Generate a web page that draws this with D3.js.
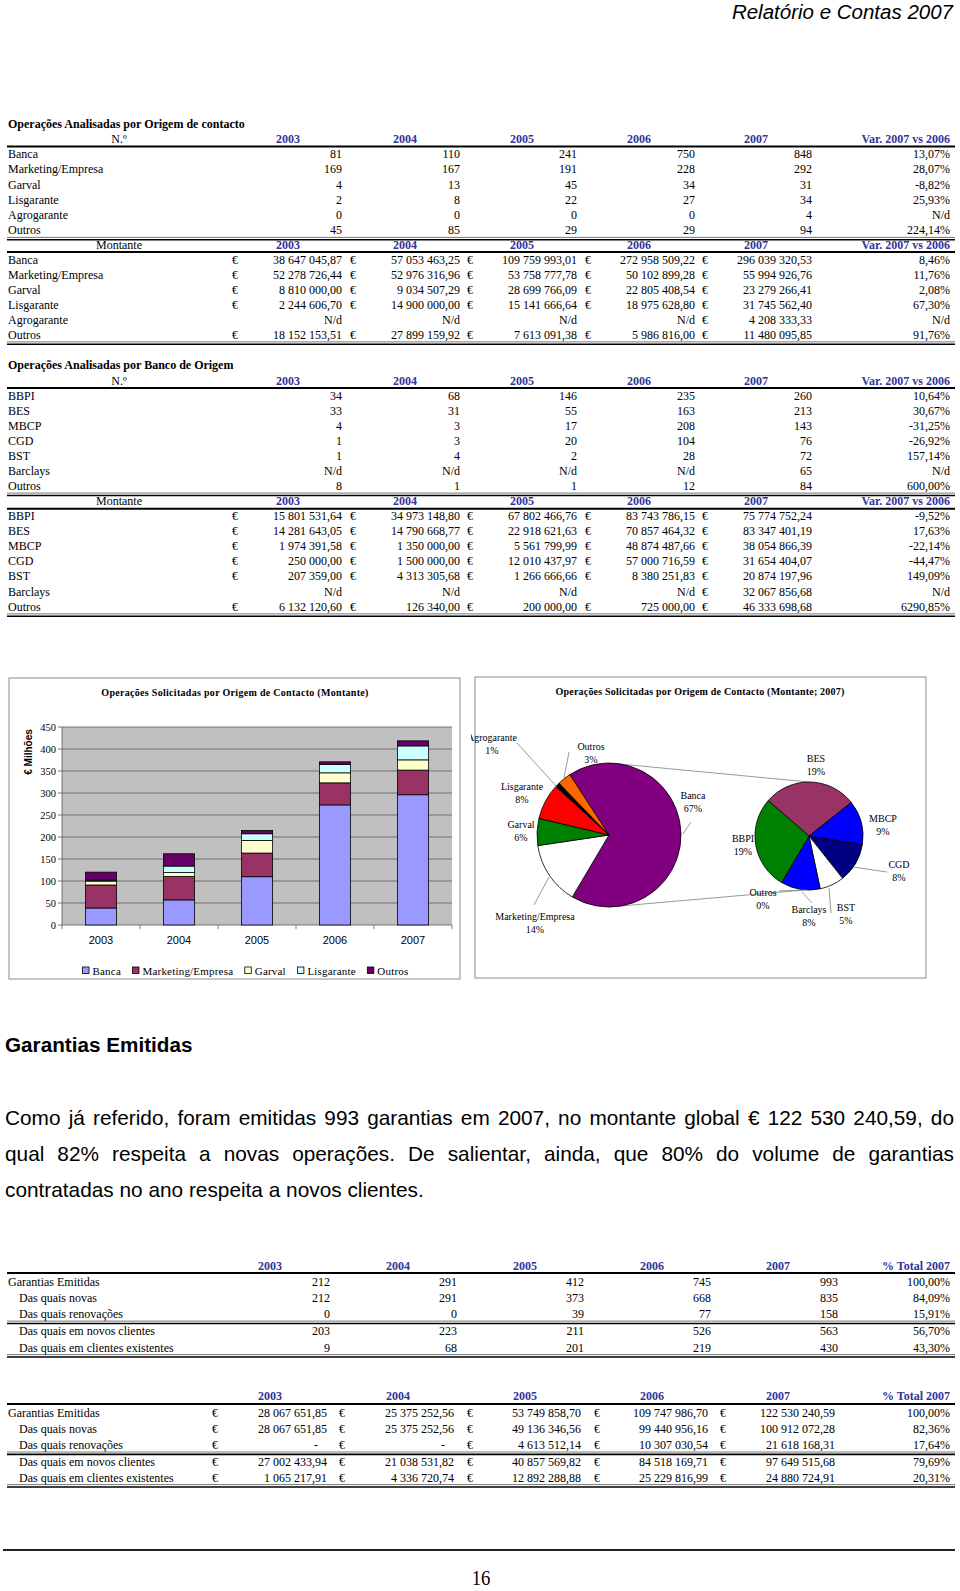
<!DOCTYPE html>
<html><head><meta charset="utf-8">
<script src="https://cdn.jsdelivr.net/npm/d3@7"></script>
<style>body{margin:0;background:#fff}svg{display:block}</style>
</head><body>
<svg id="page" width="960" height="1591"></svg>
<script>
// ===================== DATA =====================
const years = ["2003", "2004", "2005", "2006", "2007"];

// Operações Analisadas por Origem de contacto
const origens = ["Banca", "Marketing/Empresa", "Garval", "Lisgarante", "Agrogarante", "Outros"];
const nOrigem = [
  [81, 110, 241, 750, 848],
  [169, 167, 191, 228, 292],
  [4, 13, 45, 34, 31],
  [2, 8, 22, 27, 34],
  [0, 0, 0, 0, 4],
  [45, 85, 29, 29, 94]
];
const nOrigemVar = ["13,07%", "28,07%", "-8,82%", "25,93%", "N/d", "224,14%"];
const montOrigem = [
  [38647045.87, 57053463.25, 109759993.01, 272958509.22, 296039320.53],
  [52278726.44, 52976316.96, 53758777.78, 50102899.28, 55994926.76],
  [8810000.00, 9034507.29, 28699766.09, 22805408.54, 23279266.41],
  [2244606.70, 14900000.00, 15141666.64, 18975628.80, 31745562.40],
  [null, null, null, null, 4208333.33],
  [18152153.51, 27899159.92, 7613091.38, 5986816.00, 11480095.85]
];
const montOrigemVar = ["8,46%", "11,76%", "2,08%", "67,30%", "N/d", "91,76%"];

// Operações Analisadas por Banco de Origem
const bancos = ["BBPI", "BES", "MBCP", "CGD", "BST", "Barclays", "Outros"];
const nBanco = [
  [34, 68, 146, 235, 260],
  [33, 31, 55, 163, 213],
  [4, 3, 17, 208, 143],
  [1, 3, 20, 104, 76],
  [1, 4, 2, 28, 72],
  [null, null, null, null, 65],
  [8, 1, 1, 12, 84]
];
const nBancoVar = ["10,64%", "30,67%", "-31,25%", "-26,92%", "157,14%", "N/d", "600,00%"];
const montBanco = [
  [15801531.64, 34973148.80, 67802466.76, 83743786.15, 75774752.24],
  [14281643.05, 14790668.77, 22918621.63, 70857464.32, 83347401.19],
  [1974391.58, 1350000.00, 5561799.99, 48874487.66, 38054866.39],
  [250000.00, 1500000.00, 12010437.97, 57000716.59, 31654404.07],
  [207359.00, 4313305.68, 1266666.66, 8380251.83, 20874197.96],
  [null, null, null, null, 32067856.68],
  [6132120.60, 126340.00, 200000.00, 725000.00, 46333698.68]
];
const montBancoVar = ["-9,52%", "17,63%", "-22,14%", "-44,47%", "149,09%", "N/d", "6290,85%"];

// Bar chart series (Montante, € Milhões)
const barSeries = ["Banca", "Marketing/Empresa", "Garval", "Lisgarante", "Outros"];
const barColors = ["#9999ff", "#993366", "#ffffcc", "#ccffff", "#660066"];
const yTicks = [0, 50, 100, 150, 200, 250, 300, 350, 400, 450];

// Pie of pie (Montante; 2007), % of total
const pieMainLabels = ["Banca", "Marketing/Empresa", "Garval", "Lisgarante", "Agrogarante", "Outros"];
const pieMainPct = [67, 14, 6, 8, 1, 3];
const pieMainColors = ["#800080", "#ffffff", "#008000", "#ff0000", "#000000", "#ff6600"];
const pieSubLabels = ["BES", "MBCP", "CGD", "BST", "Barclays", "Outros", "BBPI"];
const pieSubPct = [19, 9, 8, 5, 8, 0, 19];
const pieSubColors = ["#993366", "#0000ff", "#000080", "#ffffff", "#0000ff", "#ffffff", "#008000"];

// Garantias Emitidas
const garLabels = ["Garantias Emitidas", "Das quais novas", "Das quais renovações", "Das quais em novos clientes", "Das quais em clientes existentes"];
const garN = [
  [212, 291, 412, 745, 993],
  [212, 291, 373, 668, 835],
  [0, 0, 39, 77, 158],
  [203, 223, 211, 526, 563],
  [9, 68, 201, 219, 430]
];
const garNPct = ["100,00%", "84,09%", "15,91%", "56,70%", "43,30%"];
const garM = [
  [28067651.85, 25375252.56, 53749858.70, 109747986.70, 122530240.59],
  [28067651.85, 25375252.56, 49136346.56, 99440956.16, 100912072.28],
  [null, null, 4613512.14, 10307030.54, 21618168.31],
  [27002433.94, 21038531.82, 40857569.82, 84518169.71, 97649515.68],
  [1065217.91, 4336720.74, 12892288.88, 25229816.99, 24880724.91]
];
const garMPct = ["100,00%", "82,36%", "17,64%", "79,69%", "20,31%"];

const paragraphLines = [
  "Como já referido, foram emitidas 993 garantias em 2007, no montante global € 122 530 240,59, do",
  "qual 82% respeita a novas operações. De salientar, ainda, que 80% do volume de garantias",
  "contratadas no ano respeita a novos clientes."
];

// ===================== DRAWING =====================
const svg = d3.select("#page");
svg.append("rect").attr("width", 960).attr("height", 1591).attr("fill", "#fff");

const SERIF = "'Liberation Serif','Times New Roman',serif";
const SANS = "'Liberation Sans',Arial,sans-serif";
const NAVY = "#333399";
const loc = d3.formatLocale({decimal: ",", thousands: " ", grouping: [3], currency: ["€", ""]});
const fmtM = loc.format(",.2f");
const fmtN = d => String(d);

function T(g, x, y, s, o = {}) {
  const t = g.append("text").attr("x", x).attr("y", y).text(s)
    .attr("font-family", o.f || SERIF).attr("font-size", o.s || 12)
    .attr("font-weight", o.w || "normal").attr("font-style", o.i || "normal")
    .attr("fill", o.c || "#000").attr("text-anchor", o.a || "start");
  if (o.ls) t.attr("letter-spacing", o.ls);
  return t;
}
function L(g, x1, y1, x2, y2, c = "#000", w = 1) {
  return g.append("line").attr("x1", x1).attr("y1", y1).attr("x2", x2).attr("y2", y2)
    .attr("stroke", c).attr("stroke-width", w);
}
function dbl(g, y, x0, x1) {
  L(g, x0, y, x1, y, "#555", 0.8);
  L(g, x0, y + 2.4, x1, y + 2.4, "#000", 1.6);
}

// Page header
T(svg, 953, 19, "Relatório e Contas 2007", {f: SANS, s: 20.5, i: "italic", a: "end"});

const colsA = {euro: [232, 350, 467, 585, 702], right: [342, 460, 577, 695, 812], head: [288, 405, 522, 639, 756], varRight: 950, labHead: 119, x0: 7, x1: 955};
const colsC = {euro: [212, 339, 467, 594, 720], right: [330, 457, 584, 711, 838], head: [270, 398, 525, 652, 778], varRight: 950, labHead: 119, x0: 7, x1: 955};

function block(cfg) {
  const g = svg.append("g");
  const c = cfg.cols;
  if (cfg.title) T(g, 8, cfg.titleY + 4, cfg.title, {w: "bold"});
  if (cfg.labHeadText) T(g, c.labHead, cfg.headY + 4, cfg.labHeadText, {a: "middle"});
  years.forEach((y, i) => T(g, c.head[i], cfg.headY + 4, y, {w: "bold", c: NAVY, a: "middle"}));
  T(g, c.varRight, cfg.headY + 4, cfg.varHeadText, {w: "bold", c: NAVY, a: "end"});
  L(g, c.x0, cfg.headY + 7.5, c.x1, cfg.headY + 7.5, "#000", 2);
  let last = 0;
  cfg.labels.forEach((lab, r) => {
    const yc = cfg.rowY[r];
    const y = yc + 4;
    last = yc;
    T(g, (cfg.indent && r > 0) ? 19 : 8, y, lab);
    cfg.values[r].forEach((v, i) => {
      if (v === null || v === undefined) {
        if (cfg.nullEuro) T(g, c.euro[i], y, "€");
        T(g, c.right[i] - (cfg.nullPad || 0), y, cfg.nullText, {a: "end"});
      } else {
        if (cfg.euro) T(g, c.euro[i], y, "€");
        T(g, c.right[i] - (cfg.valPad || 0), y, cfg.fmt(v), {a: "end"});
      }
    });
    T(g, c.varRight, y, cfg.vars[r], {a: "end"});
    if (cfg.sepAfter !== undefined && r === cfg.sepAfter) {
      dbl(g, yc + 7, c.x0, c.x1);
    }
  });
  dbl(g, last + 7, c.x0, c.x1);
}
const rows = (y0, step, n) => d3.range(n).map(i => y0 + i * step);

block({title: "Operações Analisadas por Origem de contacto", titleY: 124, headY: 139, labHeadText: "N.º", varHeadText: "Var. 2007 vs 2006",
  cols: colsA, labels: origens, values: nOrigem, vars: nOrigemVar, fmt: fmtN, rowY: rows(154.2, 15.24, 6)});
block({headY: 244.6, labHeadText: "Montante", varHeadText: "Var. 2007 vs 2006",
  cols: colsA, labels: origens, values: montOrigem, vars: montOrigemVar, fmt: fmtM, euro: true, nullText: "N/d", rowY: rows(259.8, 15.02, 6)});
block({title: "Operações Analisadas por Banco de Origem", titleY: 365.3, headY: 380.5, labHeadText: "N.º", varHeadText: "Var. 2007 vs 2006",
  cols: colsA, labels: bancos, values: nBanco, vars: nBancoVar, fmt: fmtN, nullText: "N/d", rowY: rows(395.8, 15.05, 7)});
block({headY: 501.3, labHeadText: "Montante", varHeadText: "Var. 2007 vs 2006",
  cols: colsA, labels: bancos, values: montBanco, vars: montBancoVar, fmt: fmtM, euro: true, nullText: "N/d", rowY: rows(515.5, 15.23, 7)});

// ---------- Bar chart ----------
(function () {
  const g = svg.append("g");
  g.append("rect").attr("x", 9).attr("y", 678).attr("width", 451).attr("height", 301)
    .attr("fill", "#fff").attr("stroke", "#8c8c8c").attr("stroke-width", 1);
  T(g, 235, 696, "Operações Solicitadas por Origem de Contacto (Montante)", {s: 10, w: "bold", a: "middle", ls: 0.3});

  const x = d3.scaleBand().domain(years).range([62, 452]).paddingInner(0.6).paddingOuter(0.3);
  const y = d3.scaleLinear().domain([0, 450]).range([925, 727]);
  g.append("rect").attr("x", 62).attr("y", y(450)).attr("width", 390).attr("height", y(0) - y(450)).attr("fill", "#c0c0c0");
  yTicks.forEach(t => {
    if (t > 0) L(g, 62, y(t), 452, y(t), "#5a5a5a", 0.8);
    L(g, 58, y(t), 62, y(t), "#5a5a5a", 0.8);
    T(g, 56, y(t) + 3.6, String(t), {s: 10.5, a: "end"});
  });
  L(g, 62, y(450), 62, y(0), "#5a5a5a", 0.8);
  L(g, 62, y(0), 452, y(0), "#5a5a5a", 0.8);
  d3.range(6).forEach(k => { const xx = 62 + k * x.step(); L(g, xx, y(0), xx, y(0) + 4, "#5a5a5a", 0.8); });

  const data = years.map((yr, i) => {
    const o = {year: yr};
    barSeries.forEach(s => { o[s] = montOrigem[origens.indexOf(s)][i] / 1e6; });
    return o;
  });
  const stack = d3.stack().keys(barSeries)(data);
  stack.forEach((layer, li) => {
    g.append("g").selectAll("rect").data(layer).join("rect")
      .attr("x", d => x(d.data.year)).attr("width", x.bandwidth())
      .attr("y", d => y(d[1])).attr("height", d => y(d[0]) - y(d[1]))
      .attr("fill", barColors[li]).attr("stroke", "#000").attr("stroke-width", 0.8);
  });
  years.forEach(yr => T(g, x(yr) + x.bandwidth() / 2, 944, yr, {f: SANS, s: 11, a: "middle"}));
  T(g, 0, 0, "€ Milhões", {f: SANS, s: 10, w: "bold", a: "middle"}).attr("transform", "translate(32,752) rotate(-90)");

  // legend
  const lg = g.append("g");
  const items = barSeries.map((s, i) => {
    const t = T(lg, 0, 975, s, {s: 11, ls: 0.2});
    return {t, w: t.node().getComputedTextLength(), i};
  });
  const total = d3.sum(items, d => d.w + 10) + 11.5 * (items.length - 1);
  let cx = 245.5 - total / 2;
  items.forEach(d => {
    lg.append("rect").attr("x", cx).attr("y", 967).attr("width", 6.5).attr("height", 6.5)
      .attr("fill", barColors[d.i]).attr("stroke", "#000").attr("stroke-width", 0.8);
    d.t.attr("x", cx + 10);
    cx += d.w + 10 + 11.5;
  });
})();

// ---------- Pie of pie ----------
(function () {
  const g = svg.append("g");
  g.append("rect").attr("x", 475).attr("y", 677).attr("width", 451).attr("height", 301)
    .attr("fill", "#fff").attr("stroke", "#8c8c8c").attr("stroke-width", 1);
  svg.append("clipPath").attr("id", "pclip").append("rect").attr("x", 471).attr("y", 677).attr("width", 456).attr("height", 302);
  T(g, 700, 695, "Operações Solicitadas por Origem de Contacto (Montante; 2007)", {s: 10, w: "bold", a: "middle", ls: 0.2});

  const c1 = [609, 835], r1 = 72, c2 = [809, 836], r2 = 54;
  const deg = Math.PI / 180;
  // connector lines
  L(g, c1[0], c1[1] - r1, c2[0], c2[1] - r2, "#808080", 0.8);
  L(g, c1[0], c1[1] + r1, c2[0] - 5, c2[1] + r2, "#808080", 0.8);

  const p1 = d3.pie().sort(null).startAngle(-33 * deg).endAngle(-33 * deg + 2 * Math.PI)(pieMainPct);
  const a1 = d3.arc().innerRadius(0).outerRadius(r1);
  g.append("g").attr("transform", `translate(${c1})`).selectAll("path").data(p1).join("path")
    .attr("d", a1).attr("fill", (d, i) => pieMainColors[i]).attr("stroke", "#000").attr("stroke-width", 0.8);

  const p2 = d3.pie().sort(null).startAngle(-49 * deg).endAngle(-49 * deg + 2 * Math.PI)(pieSubPct);
  const a2 = d3.arc().innerRadius(0).outerRadius(r2);
  g.append("g").attr("transform", `translate(${c2})`).selectAll("path").data(p2.filter(d => d.value > 0)).join("path")
    .attr("d", a2).attr("fill", d => pieSubColors[d.index]).attr("stroke", "#000").attr("stroke-width", 0.8);

  // leader lines
  const leaders = [[517, 743, 557, 787], [569, 752, 564, 778], [691, 822, 683, 834], [534, 905, 549, 877],
                   [887, 872, 853, 867], [779, 891, 806, 890], [812, 903, 802, 892], [831, 913, 829, 888]];
  leaders.forEach(l => L(g, l[0], l[1], l[2], l[3], "#808080", 0.8));

  // labels
  const mainPos = [[693, 795], [535, 916], [521, 824], [522, 786], [492, 737], [591, 746]];
  const subPos = [[816, 758], [883, 818], [899, 864], [846, 907], [809, 909], [763, 892], [743, 838]];
  const lab = g.append("g").attr("clip-path", "url(#pclip)");
  pieMainLabels.forEach((s, i) => {
    T(lab, mainPos[i][0], mainPos[i][1] + 3.5, s, {s: 10, a: "middle"});
    T(lab, mainPos[i][0], mainPos[i][1] + 17, pieMainPct[i] + "%", {s: 10, a: "middle"});
  });
  pieSubLabels.forEach((s, i) => {
    T(lab, subPos[i][0], subPos[i][1] + 3.5, s, {s: 10, a: "middle"});
    T(lab, subPos[i][0], subPos[i][1] + 17, pieSubPct[i] + "%", {s: 10, a: "middle"});
  });
})();

// ---------- Text section ----------
T(svg, 5, 1051.5, "Garantias Emitidas", {f: SANS, s: 20.7, w: "bold"});
(function () {
  const x0 = 5, x1 = 954, base = [1124.5, 1161, 1196.5];
  paragraphLines.forEach((ln, li) => {
    const words = ln.split(" ");
    const g = svg.append("g");
    const ts = words.map(w => T(g, 0, base[li], w, {f: SANS, s: 20.8}));
    const ws = ts.map(t => t.node().getComputedTextLength());
    const justify = li < paragraphLines.length - 1;
    const sp = justify ? (x1 - x0 - d3.sum(ws)) / (words.length - 1) : 5.8;
    let x = x0;
    ts.forEach((t, i) => { t.attr("x", x); x += ws[i] + sp; });
  });
})();

// ---------- Garantias tables ----------
block({headY: 1265.5, varHeadText: "% Total 2007", cols: colsC, labels: garLabels, values: garN, vars: garNPct, fmt: fmtN,
  indent: true, sepAfter: 2, rowY: [1281.7, 1297.9, 1314.1, 1331.4, 1347.6]});
block({headY: 1396.4, varHeadText: "% Total 2007", cols: colsC, labels: garLabels, values: garM, vars: garMPct, fmt: fmtM,
  euro: true, nullEuro: true, nullText: "-", nullPad: 12, valPad: 3, indent: true, sepAfter: 2, rowY: [1412.6, 1428.8, 1445, 1462.3, 1477.6]});

// ---------- Footer ----------
L(svg, 3, 1550, 955, 1550, "#222", 2);
T(svg, 0, 0, "16", {s: 22, a: "middle"}).attr("transform", "translate(481,1585) scale(0.85,1)");
</script>
</body></html>
